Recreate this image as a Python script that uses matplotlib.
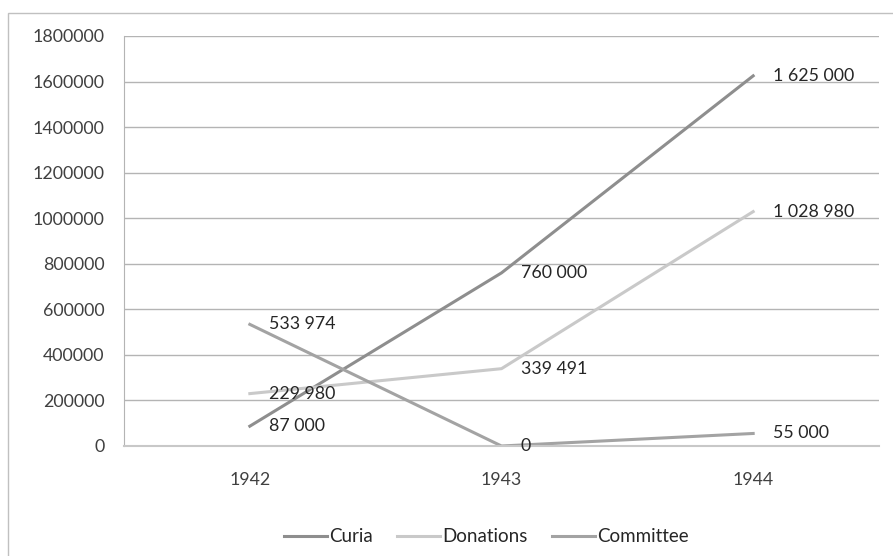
import matplotlib.pyplot as plt
from matplotlib.patches import Rectangle

years = ['1942', '1943', '1944']
curia = [87000, 760000, 1625000]
donations = [229980, 339491, 1028980]
committee = [533974, 0, 55000]

series = [('Curia', curia, '#8e8e8e'),
          ('Donations', donations, '#c9c9c9'),
          ('Committee', committee, '#a3a3a3')]

plt.rcParams['font.family'] = ['Lato', 'DejaVu Sans']

W, H = 893, 556
fig = plt.figure(figsize=(W / 100, H / 100), dpi=100)
ax = fig.add_axes([124 / W, 1 - 446 / H, (879 - 124) / W, (446 - 36) / H])

# outer chart frame
fig.patches.append(Rectangle((8 / W, -0.1), 1.2, 1 - 13 / H + 0.1,
                             transform=fig.transFigure, fill=False,
                             edgecolor='#c0c0c0', linewidth=1))

x = range(len(years))
for name, vals, col in series:
  ax.plot(x, vals, color=col, linewidth=2.2, label=name)
  for xi, v in zip(x, vals):
    lab = '{:,}'.format(v).replace(',', ' ')
    ax.annotate(lab, (xi, v), xytext=(14, 0), textcoords='offset points',
                va='center', ha='left', fontsize=12.8, color='#262626')

ax.set_xlim(-0.5, 2.5)
ax.set_ylim(0, 1800000)
ax.set_yticks(range(0, 1800001, 200000))
ax.set_yticklabels([str(v) for v in range(0, 1800001, 200000)])
ax.set_xticks(list(x))
ax.set_xticklabels(years)
ax.tick_params(length=0, labelsize=12.8, colors='#404040', pad=14)
ax.tick_params(axis='x', pad=19)
ax.grid(axis='y', color='#b4b4b4', linewidth=1)
ax.set_axisbelow(True)
for s in ['top', 'right']:
  ax.spines[s].set_visible(False)
ax.spines['left'].set_color('#b4b4b4')
ax.spines['bottom'].set_color('#c8c8c8')
ax.spines['bottom'].set_linewidth(1.5)

fig.legend(loc='center', bbox_to_anchor=(486 / W, 1 - 537 / H), ncol=3,
           frameon=False, fontsize=13.5, handlelength=2.3, handletextpad=0.1,
           columnspacing=1.3, labelcolor='#262626')

fig.savefig('out.png', dpi=100)
